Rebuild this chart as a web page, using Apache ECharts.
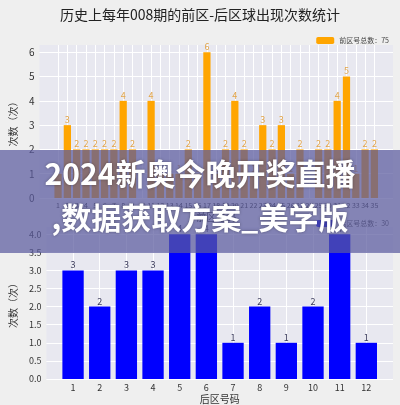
<!DOCTYPE html>
<html>
<head>
<meta charset="utf-8">
<script src="https://cdn.jsdelivr.net/npm/echarts@6/dist/echarts.min.js"></script>
<style>
html,body{margin:0;padding:0;background:#EFEFEF;}
#c{width:400px;height:405px;}
</style>
</head>
<body>
<div id="c"></div>
<script>
// ---- data ----
const titleText = '历史上每年008期的前区-后区球出现次数统计';
const frontNumbers = ['1','2','3','4','5','6','7','8','9','10','11','12','13','14','15','16','17','18','19','20','21','22','23','24','25','26','27','28','29','30','31','32','33','34','35'];
const frontCounts = [1,3,2,2,2,2,2,4,2,0,4,1,1,1,2,1,6,1,2,4,2,1,3,2,3,1,2,0,2,2,4,5,1,2,2];
const backNumbers = ['1','2','3','4','5','6','7','8','9','10','11','12'];
const backCounts = [3,2,3,3,4,4,1,2,1,2,4,1];
const bannerLines = ['2024新奥今晚开奖直播', ',数据获取方案_美学版'];

const sum = a => a.reduce((s, v) => s + v, 0);
const frontName = '前区号总数：' + sum(frontCounts);
const backName = '后区号总数：' + sum(backCounts);

// pad categories so the plot keeps matplotlib-like side margins
const pad = (arr, n) => Array(n).fill('').concat(arr, Array(n).fill(''));
const padData = (arr, n) => Array(n).fill(null).concat(arr, Array(n).fill(null));

const FONT = '"Noto Sans CJK SC", "DejaVu Sans", sans-serif';
const chart = echarts.init(document.getElementById('c'), null, {renderer: 'canvas'});

const catAxis = (cats, idx, fs, name, nameGap) => ({
  type: 'category', gridIndex: idx, data: cats, boundaryGap: false,
  axisLine: {show: false}, axisTick: {show: false},
  axisLabel: {interval: 0, fontSize: fs, color: '#333', margin: 4, fontFamily: FONT},
  splitLine: {show: true, interval: (i, v) => v !== '', lineStyle: {color: '#fff', width: 1}},
  name: name, nameLocation: 'middle', nameGap: nameGap,
  nameTextStyle: {fontSize: 10, color: '#333', fontFamily: FONT}
});

const valAxis = (idx, max, interval, fmt, fs) => ({
  type: 'value', gridIndex: idx, min: 0, max: max, interval: interval,
  axisLine: {show: false}, axisTick: {show: false},
  axisLabel: {fontSize: fs, color: '#333', margin: 5, showMaxLabel: false, formatter: fmt, fontFamily: FONT},
  splitLine: {show: true, showMaxLine: false, lineStyle: {color: '#fff', width: 1}},
  name: '次数（次）', nameLocation: 'middle', nameGap: 14,
  nameTextStyle: {fontSize: 10, color: '#333', fontFamily: FONT}
});

chart.setOption({
  backgroundColor: '#EFEFEF',
  animation: false,
  title: {
    text: titleText, left: 'center', top: 3,
    textStyle: {fontSize: 14, fontWeight: 'normal', color: '#222', fontFamily: FONT}
  },
  legend: [
    {data: [frontName], top: 32, right: 6, itemWidth: 18, itemHeight: 7, itemGap: 4,
     textStyle: {fontSize: 7, color: '#444', fontFamily: FONT}},
    {data: [backName], top: 215, right: 6, itemWidth: 18, itemHeight: 7, itemGap: 4,
     textStyle: {fontSize: 7, color: '#444', fontFamily: FONT}}
  ],
  grid: [
    {left: 32, right: 7, top: 45, height: 153, show: true, backgroundColor: '#E8E8F0', borderWidth: 0},
    {left: 32, right: 7, top: 227, height: 153, show: true, backgroundColor: '#E8E8F0', borderWidth: 0}
  ],
  xAxis: [
    catAxis(pad(frontNumbers, 2), 0, 7, '前区号码', 14),
    catAxis(pad(backNumbers, 1), 1, 9, '后区号码', 15)
  ],
  yAxis: [
    valAxis(0, 6.3, 1, v => String(v), 10),
    valAxis(1, 4.2, 0.5, v => v.toFixed(1), 9)
  ],
  series: [
    {name: frontName, type: 'bar', xAxisIndex: 0, yAxisIndex: 0, data: padData(frontCounts, 2),
     barWidth: '78%', itemStyle: {color: '#FFA500'},
     label: {show: true, position: 'top', distance: 1, fontSize: 9, color: '#E2A54A', fontFamily: FONT,
             formatter: p => (p.value ? p.value : '')}},
    {name: backName, type: 'bar', xAxisIndex: 1, yAxisIndex: 1, data: padData(backCounts, 1),
     barWidth: '80%', itemStyle: {color: '#0000FF'},
     label: {show: true, position: 'top', distance: 1, fontSize: 9, color: '#3A3A5A', fontFamily: FONT}}
  ],
  graphic: [
    {type: 'rect', left: 0, top: 150, z: 100,
     shape: {width: 400, height: 103}, style: {fill: 'rgba(90,90,158,0.72)'}},
    {type: 'text', left: 'center', top: 159, z: 101,
     style: {text: bannerLines[0], fill: '#fff', font: 'bold 30px "Noto Sans CJK SC"',
             textShadowColor: 'rgba(0,0,0,0.35)', textShadowBlur: 3}},
    {type: 'text', left: 'center', top: 203, z: 101,
     style: {text: bannerLines[1], fill: '#fff', font: 'bold 30px "Noto Sans CJK SC"',
             textShadowColor: 'rgba(0,0,0,0.35)', textShadowBlur: 3}}
  ]
});
</script>
</body>
</html>
